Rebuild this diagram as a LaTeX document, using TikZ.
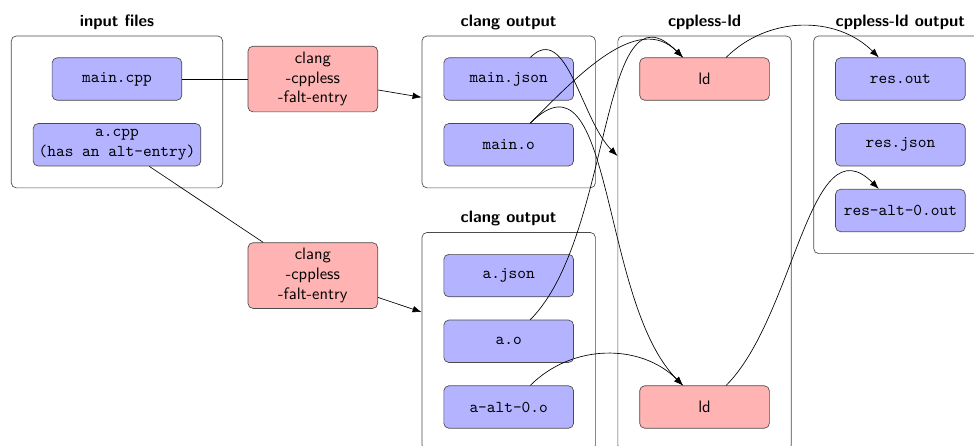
\documentclass[tikz,border=0pt]{standalone}
\usepackage{xcolor}
\usepackage{tikz}
\usetikzlibrary{positioning,fit,arrows.meta}
\definecolor{filebg}{HTML}{B3B3FF}
\definecolor{toolbg}{HTML}{FFB3B3}
\definecolor{frame}{HTML}{4A4A4A}
\newcommand{\fname}[1]{\texttt{#1}}

\begin{document}
\begin{tikzpicture}[every node/.style={font=\sffamily},
    node distance=0.48cm and 1.39cm,
    file/.style={draw=frame,fill=filebg,rounded corners=3pt,minimum width=2.75cm,minimum height=0.9cm,align=center},
    tool/.style={file,fill=toolbg},
    group/.style={draw=frame,rounded corners=3pt,inner sep=13pt,label distance=3.5pt},
    title/.style={font=\sffamily\bfseries},
    link/.style={-{Latex[length=5.5pt,width=4pt]}},
    bent/.style={link,out=45,in=135}]
    \useasboundingbox (-70.6pt,47.7pt) rectangle (517.2pt,-220.9pt);
    % files and tools
    \node[file] (maincpp) {\fname{main.cpp}};
    \node[file,below=of maincpp] (acpp) {\fname{a.cpp}\\\fname{(has an alt-entry)}};
    \node[tool,right=of maincpp] (clangA) {clang\\-cppless\\-falt-entry};
    \node[file,right=of clangA] (mainjson) {\fname{main.json}};
    \node[file,below=of mainjson] (maino) {\fname{main.o}};
    \node[file,below=1.86cm of maino] (ajson) {\fname{a.json}};
    \node[file,below=of ajson] (ao) {\fname{a.o}};
    \node[file,below=of ao] (aalt) {\fname{a-alt-0.o}};
    \node[tool,left=of ajson] (clangB) {clang\\-cppless\\-falt-entry};
    \node[tool,right=of mainjson] (ldA) {ld};
    \node[tool,right=of aalt] (ldB) {ld};
    \node[file,right=of ldA] (resout) {\fname{res.out}};
    \node[file,below=of resout] (resjson) {\fname{res.json}};
    \node[file,below=of resjson] (resalt) {\fname{res-alt-0.out}};
    % groups
    \node[group,fit=(maincpp)(acpp),label={[title]above:input files}] (inputs) {};
    \node[group,fit=(mainjson)(maino),label={[title]above:clang output}] (outA) {};
    \node[group,fit=(ajson)(aalt),label={[title]above:clang output}] (outB) {};
    \node[group,fit=(ldA)(ldB),label={[title]above:cppless-ld}] (ldbox) {};
    \node[group,fit=(resout)(resalt),label={[title]above:cppless-ld output}] (resbox) {};
    % connections
    \draw (maincpp)--(clangA);
    \draw[link] (clangA)--(outA);
    \draw (acpp)--(clangB);
    \draw[link] (clangB)--(outB);
    \draw[bent] (mainjson) to (ldbox);
    \draw[bent] (maino) to (ldA);
    \draw[bent] (maino) to (ldB);
    \draw[bent] (ao) to (ldA);
    \draw[bent] (aalt) to (ldB);
    \draw[bent] (ldA) to (resout);
    \draw[bent] (ldB) to (resalt);
\end{tikzpicture}
\end{document}
